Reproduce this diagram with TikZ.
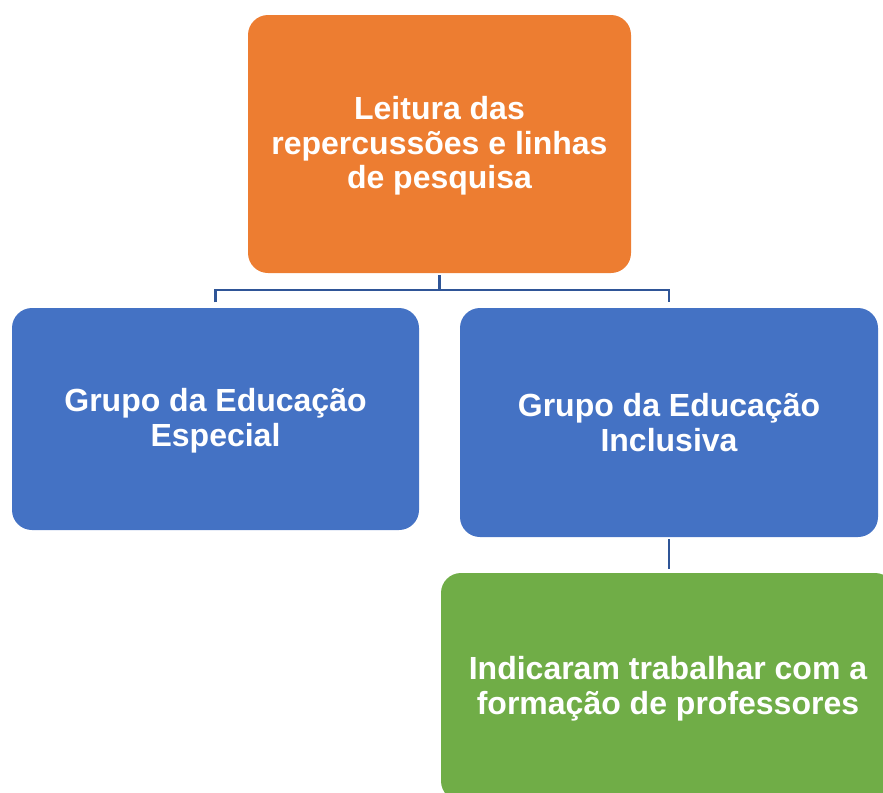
\documentclass[tikz,border=0pt]{standalone}
\usepackage{fontspec}
\setmainfont{Liberation Sans}
\begin{document}
\begin{tikzpicture}[x=0.75pt,y=-0.75pt,
  box/.style={draw=none,rounded corners=15pt,inner sep=0pt},
  lbl/.style={text=white,align=center,inner sep=0pt,
    font=\bfseries\fontsize{24}{26}\selectfont},
  conn/.style={draw={rgb,255:red,47;green,85;blue,151},line width=1.9pt}]
\useasboundingbox (0,0) rectangle (883,793);
\clip (0,0) rectangle (883,793);
\definecolor{orng}{RGB}{237,125,49}
\definecolor{blu}{RGB}{68,114,196}
\definecolor{grn}{RGB}{112,173,71}
\node[box,fill=orng,minimum width=383*0.75pt,minimum height=258*0.75pt] (top) at (439.5,144) {};
\node[box,fill=blu,minimum width=407*0.75pt,minimum height=222*0.75pt] (left) at (215.5,419) {};
\node[box,fill=blu,minimum width=418*0.75pt,minimum height=229*0.75pt] (right) at (669,422.5) {};
\node[box,fill=grn,minimum width=454*0.75pt,minimum height=228*0.75pt] (green) at (668,687) {};
\node[lbl] (topT) at ([yshift=-1.5pt]top.center) {Leitura das\\repercussões e linhas\\de pesquisa};
\node[lbl] (leftT) at ([yshift=-1.5pt]left.center) {Grupo da Educação\\Especial};
\node[lbl] (rightT) at ([yshift=0pt]right.center) {Grupo da Educação\\Inclusiva};
\node[lbl] (greenT) at ([yshift=-1.5pt]green.center) {Indicaram trabalhar com a\\formação de professores};
\coordinate (j) at (439.5,290);
\draw[conn] ([yshift=-1.5pt]top.south) -- (top.south |- j);
\draw[conn] ([yshift=4pt]left.north) -- (left.north |- j) -- (right.north |- j) -- ([yshift=4pt]right.north);
\draw[conn] ([yshift=-1.5pt]right.south) -- ([yshift=3pt]right.south |- green.north);
\end{tikzpicture}
\end{document}
